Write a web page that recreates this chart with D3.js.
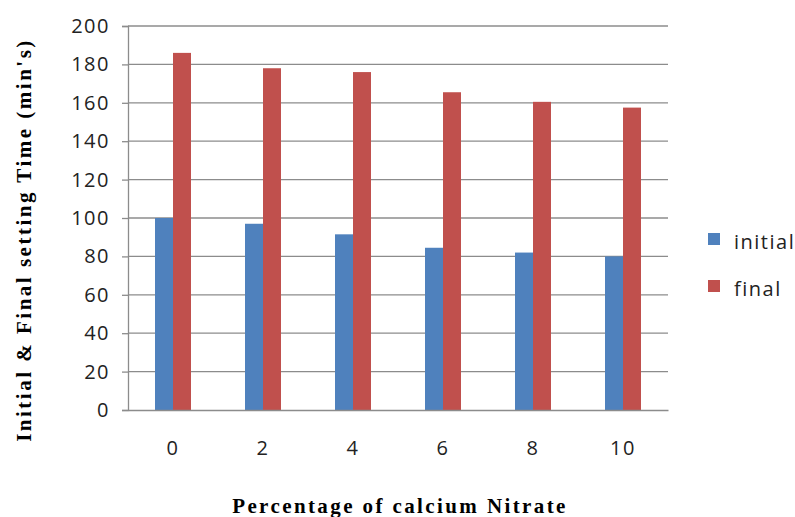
<!DOCTYPE html>
<html>
<head>
<meta charset="utf-8">
<script src="https://cdn.jsdelivr.net/npm/d3@7"></script>
<style>
  body { margin: 0; background: #fff; }
  .tick text { font-family: "Open Sans", sans-serif; font-size: 20px; fill: #222; letter-spacing: 1.5px; }
</style>
</head>
<body>
<div id="chart"></div>
<script>
var categories = ["0", "2", "4", "6", "8", "10"];
var seriesNames = ["initial", "final"];
var initialValues = [100, 97, 91.5, 84.5, 82, 80];
var finalValues = [186, 178, 176, 165.5, 160.5, 157.5];
var yTicks = [0, 20, 40, 60, 80, 100, 120, 140, 160, 180, 200];
var colors = ["#4F81BD", "#C0504D"];

var margin = {top: 26, right: 127, bottom: 107, left: 128},
    width = 795 - margin.left - margin.right,
    height = 517 - margin.top - margin.bottom;

var svgRoot = d3.select("#chart")
  .append("svg")
    .attr("width", 795)
    .attr("height", 517);
var svg = svgRoot.append("g")
    .attr("transform", "translate(" + margin.left + "," + margin.top + ")");

var x = d3.scaleBand()
  .domain(categories)
  .range([0, width])
  .paddingInner(0.6)
  .paddingOuter(0.3);

var xs = d3.scaleBand()
  .domain(seriesNames)
  .range([0, x.bandwidth()]);

var y = d3.scaleLinear()
  .domain([0, 200])
  .range([height, 0]);

// gridlines
svg.append("g")
  .selectAll("line")
  .data(yTicks.slice(1))
  .enter()
  .append("line")
    .attr("x1", 0)
    .attr("x2", width)
    .attr("y1", function(d) { return y(d); })
    .attr("y2", function(d) { return y(d); })
    .attr("stroke", "#8c8c8c")
    .attr("stroke-width", 1.3);

// y axis
var yAxis = svg.append("g")
  .call(d3.axisLeft(y).tickValues(yTicks).tickSize(6).tickPadding(12));
yAxis.select(".domain").attr("stroke", "#8c8c8c").attr("stroke-width", 1.3);
yAxis.selectAll(".tick line").attr("stroke", "#8c8c8c").attr("stroke-width", 1.3);

// bars
var rows = categories.map(function(c, i) {
  return {cat: c, vals: [initialValues[i], finalValues[i]]};
});

var groups = svg.selectAll("g.grp")
  .data(rows)
  .enter()
  .append("g")
    .attr("class", "grp")
    .attr("transform", function(d) { return "translate(" + x(d.cat) + ",0)"; });

groups.selectAll("rect")
  .data(function(d) { return d.vals.map(function(v, j) { return {name: seriesNames[j], v: v, j: j}; }); })
  .enter()
  .append("rect")
    .attr("x", function(d) { return xs(d.name); })
    .attr("y", function(d) { return y(d.v); })
    .attr("width", xs.bandwidth())
    .attr("height", function(d) { return height - y(d.v); })
    .attr("fill", function(d) { return colors[d.j]; });

// x axis
var xAxis = svg.append("g")
  .attr("transform", "translate(0," + height + ")")
  .call(d3.axisBottom(x).tickSize(0).tickPadding(31));
xAxis.select(".domain").attr("stroke", "#8c8c8c").attr("stroke-width", 1.3);

// axis titles
svgRoot.append("text")
  .attr("x", 400)
  .attr("y", 513)
  .attr("text-anchor", "middle")
  .style("font-family", "Liberation Serif, serif")
  .style("font-weight", "bold")
  .style("font-size", "21px")
  .style("letter-spacing", "2.4px")
  .text("Percentage of calcium Nitrate");

svgRoot.append("text")
  .attr("transform", "translate(31,240) rotate(-90)")
  .attr("text-anchor", "middle")
  .style("font-family", "Liberation Serif, serif")
  .style("font-weight", "bold")
  .style("font-size", "21px")
  .style("letter-spacing", "2.5px")
  .text("Initial & Final setting Time (min's)");

// legend
var legend = svgRoot.selectAll("g.leg")
  .data(seriesNames)
  .enter()
  .append("g")
    .attr("class", "leg")
    .attr("transform", function(d, i) { return "translate(708," + (233 + i * 47) + ")"; });

legend.append("rect")
  .attr("width", 12)
  .attr("height", 12)
  .attr("fill", function(d, i) { return colors[i]; });

legend.append("text")
  .attr("x", 26)
  .attr("y", 16)
  .style("font-family", "Open Sans, sans-serif")
  .style("font-size", "20px")
  .style("letter-spacing", "1.5px")
  .style("fill", "#222")
  .text(function(d) { return d; });
</script>
</body>
</html>
